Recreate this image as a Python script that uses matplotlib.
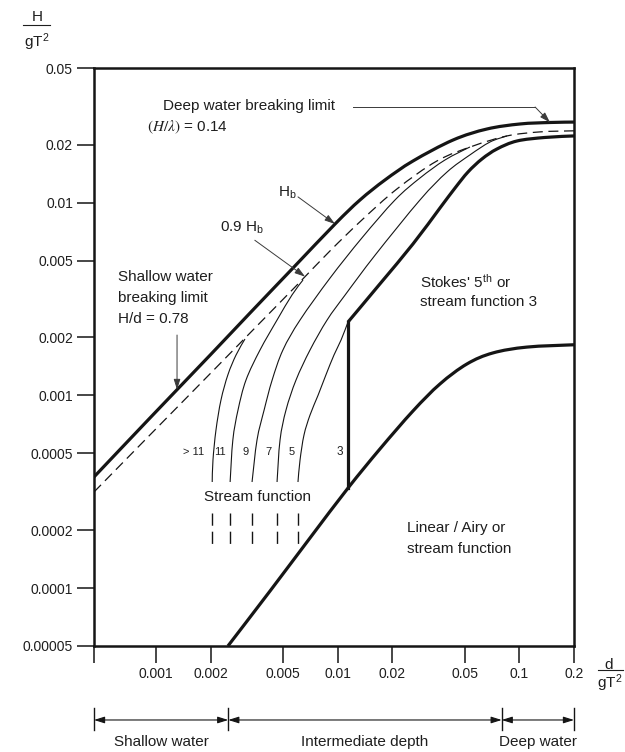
import numpy as np
import matplotlib

matplotlib.use("Agg")
import matplotlib.pyplot as plt
from matplotlib.lines import Line2D
from matplotlib.path import Path
from matplotlib.patches import PathPatch
from matplotlib.ticker import NullLocator

plt.rcParams["font.family"] = ["Liberation Sans", "DejaVu Sans"]
plt.rcParams["mathtext.fontset"] = "stix"

# axis ranges (d/gT2, H/gT2)
x_min, x_max = 0.000456, 0.2
y_min, y_max = 0.00005, 0.05

x_ticks = [x_min, 0.001, 0.002, 0.005, 0.01, 0.02, 0.05, 0.1, 0.2]
x_tick_labels = ["", "0.001", "0.002", "0.005", "0.01", "0.02", "0.05", "0.1", "0.2"]
y_ticks = [0.00005, 0.0001, 0.0002, 0.0005, 0.001, 0.002, 0.005, 0.01, 0.02, 0.05]
y_tick_labels = ["0.00005", "0.0001", "0.0002", "0.0005", "0.001", "0.002",
                 "0.005", "0.01", "0.02", "0.05"]

# breaking limit H_b
hb_x = [0.000456, 0.000927, 0.00199, 0.0033, 0.00568, 0.00968, 0.01328, 0.01823,
        0.026, 0.0432, 0.0664, 0.1009, 0.1476, 0.2]
hb_y = [0.000377, 0.000763, 0.00162, 0.00268, 0.00458, 0.00775, 0.01033, 0.01312,
        0.01646, 0.02115, 0.02412, 0.02561, 0.02607, 0.0262]

# 0.9 H_b
hb90_x = [0.000456, 0.000927, 0.00175, 0.0033, 0.00598, 0.00908, 0.0136, 0.0212,
          0.0352, 0.0556, 0.0855, 0.130, 0.2]
hb90_y = [0.000315, 0.000623, 0.001146, 0.00211, 0.00374, 0.00562, 0.00813, 0.01178,
          0.01646, 0.01968, 0.0222, 0.0233, 0.0236]

# upper limit of Stokes 5th / stream function 3 region
stokes_x = [0.0114, 0.0171, 0.026, 0.0366, 0.0443, 0.0522, 0.0623, 0.0754, 0.0971,
            0.1384, 0.2]
stokes_y = [0.0024, 0.00379, 0.00611, 0.00939, 0.01192, 0.01443, 0.01686, 0.019,
            0.0209, 0.0218, 0.0222]

# stream function order 3 boundary
sf3_x = [0.0114, 0.0114]
sf3_y = [0.00033, 0.0024]

# limit of linear / Airy region
airy_x = [0.00249, 0.00425, 0.00705, 0.0114, 0.0171, 0.026, 0.0366, 0.0515, 0.0716,
          0.1102, 0.2]
airy_y = [0.00005, 0.0000966, 0.000182, 0.00033, 0.000527, 0.00083, 0.001146,
          0.001455, 0.00166, 0.00178, 0.00183]

# stream function order curves
sf_orders = ["> 11", "11", "9", "7", "5"]
sf_x = [
    [0.00204, 0.00206, 0.00214, 0.00228, 0.00249, 0.00276, 0.00309],
    [0.00256, 0.00265, 0.00283, 0.00313, 0.00374, 0.00464, 0.00561, 0.00645],
    [0.00338, 0.0036, 0.00394, 0.00436, 0.005, 0.00621, 0.00908, 0.0136, 0.0207,
     0.0284, 0.039, 0.0535],
    [0.00464, 0.00482, 0.0052, 0.0059, 0.00705, 0.00875, 0.011, 0.0161, 0.0284,
     0.04, 0.0535, 0.069, 0.0855],
    [0.00605, 0.00621, 0.00653, 0.00705, 0.0078, 0.00863, 0.00955, 0.01045, 0.0114],
]
sf_y = [
    [0.000355, 0.000462, 0.000661, 0.000946, 0.00128, 0.00162, 0.00196],
    [0.000355, 0.000587, 0.00084, 0.0012, 0.00172, 0.00246, 0.00332, 0.00397],
    [0.000355, 0.000587, 0.00084, 0.0012, 0.00172, 0.00246, 0.00406, 0.00656,
     0.01033, 0.01343, 0.01666, 0.01946],
    [0.000355, 0.000587, 0.00084, 0.0012, 0.00172, 0.00246, 0.00332, 0.00535,
     0.01033, 0.01442, 0.0177, 0.02065, 0.0222],
    [0.000355, 0.000462, 0.000623, 0.000791, 0.001, 0.00128, 0.00162, 0.00194, 0.0024],
]
sf_tail_y = [0.000245, 0.000167]

# water depth zones
zone_edges = [x_min, 0.0025, 0.08, 0.2]
zone_labels = ["Shallow water", "Intermediate depth", "Deep water"]

INK = "#151515"
TXT = "#1e1e1e"
LEAD = "#3a3a3a"


def on_curve(xs, ys, x):
    return 10 ** np.interp(np.log10(x), np.log10(xs), np.log10(ys))


def smooth_curve(ax, xs, ys, **kw):
    # Catmull-Rom through the read points, built in log space so it bends like the drawing
    p = np.column_stack([np.log10(xs), np.log10(ys)])
    n = len(p)
    verts, codes = [p[0]], [Path.MOVETO]
    for i in range(n - 1):
        p0 = p[i - 1] if i > 0 else p[i]
        p3 = p[i + 2] if i + 2 < n else p[i + 1]
        verts += [p[i] + (p[i + 1] - p0) / 6, p[i + 1] - (p3 - p[i]) / 6, p[i + 1]]
        codes += [Path.CURVE4] * 3
    path = Path(10 ** np.array(verts), codes)
    ax.add_patch(PathPatch(path, fill=False, edgecolor=kw.pop("color", INK),
                           capstyle="butt", **kw))


def leader(ax, start, tip):
    ax.annotate("", xy=tip, xycoords="data", xytext=start, textcoords="axes fraction",
                arrowprops=dict(arrowstyle="-|>,head_length=0.7,head_width=0.22",
                                mutation_scale=9, color=LEAD, lw=0.7,
                                shrinkA=0, shrinkB=0))


fig = plt.figure(figsize=(6.25, 7.52), dpi=100)
ax = fig.add_axes([94 / 625, 106 / 752, 480 / 625, 578 / 752])
ax.set_xscale("log")
ax.set_yscale("log")
ax.set_xlim(x_min, x_max)
ax.set_ylim(y_min, y_max)

smooth_curve(ax, hb_x, hb_y, lw=2.3)
smooth_curve(ax, hb90_x, hb90_y, lw=0.9, linestyle=(0, (8, 4.5)))
smooth_curve(ax, stokes_x, stokes_y, lw=2.3)
ax.plot(sf3_x, sf3_y, color=INK, lw=2.3)
smooth_curve(ax, airy_x, airy_y, lw=2.3)

for xs, ys in zip(sf_x, sf_y):
    smooth_curve(ax, xs, ys, lw=0.8)
    ax.plot([xs[0], xs[0]], sf_tail_y, color=INK, lw=1.0, linestyle=(0, (8.8, 4.3)))

label_pos = [0.207, 0.263, 0.315, 0.363, 0.411]
for lab, px in zip(sf_orders, label_pos):
    ax.text(px, 0.336, lab, transform=ax.transAxes, ha="center", va="center",
            fontsize=8, color=TXT)
ax.text(0.5125, 0.336, "3", transform=ax.transAxes, ha="center", va="center",
        fontsize=8.5, color=TXT)

# ticks and frame
ax.set_xticks(x_ticks, labels=x_tick_labels)
ax.set_yticks(y_ticks, labels=y_tick_labels)
ax.xaxis.set_minor_locator(NullLocator())
ax.yaxis.set_minor_locator(NullLocator())
ax.tick_params(direction="out", length=12.2, width=1.1, color=INK, labelsize=10,
               labelcolor=TXT, pad=3)
for sp in ax.spines.values():
    sp.set_linewidth(1.8)
    sp.set_color(INK)

# annotations
kw = dict(transform=ax.transAxes, fontsize=11, color=TXT, va="center")
ax.text(0.144, 0.934, "Deep water breaking limit", ha="left", **kw)
ax.text(0.110, 0.898, r"$(H/\lambda)$ = 0.14", ha="left", **kw)
ax.plot([0.540, 0.919], [0.9325, 0.9325], transform=ax.transAxes, color=LEAD, lw=0.7)
leader(ax, (0.919, 0.9325), (0.1476, on_curve(hb_x, hb_y, 0.1476)))

ax.text(0.383, 0.784, r"H$_{\mathregular{b}}$", ha="left", **kw)
leader(ax, (0.425, 0.777), (0.00968, on_curve(hb_x, hb_y, 0.00968)))

ax.text(0.2625, 0.723, r"0.9 H$_{\mathregular{b}}$", ha="left", **kw)
leader(ax, (0.335, 0.702), (0.00662, on_curve(hb90_x, hb90_y, 0.00662)))

ax.text(0.05, 0.638, "Shallow water", ha="left", **kw)
ax.text(0.05, 0.602, "breaking limit", ha="left", **kw)
ax.text(0.05, 0.566, "H/d = 0.78", ha="left", **kw)
leader(ax, (0.173, 0.538), (0.001306, on_curve(hb_x, hb_y, 0.001306)))

ax.text(0.679, 0.630, r"Stokes' 5$^{\mathregular{th}}$ or", ha="left", **kw)
ax.text(0.679, 0.595, "stream function 3", ha="left", **kw)
ax.text(0.340, 0.258, "Stream function", ha="center", **kw)
ax.text(0.652, 0.204, "Linear / Airy or", ha="left", **kw)
ax.text(0.652, 0.168, "stream function", ha="left", **kw)

# axis labels as fractions
fig.text(0.0592, 0.977, "H", ha="center", va="center", fontsize=11, color=TXT)
fig.add_artist(Line2D([0.037, 0.080], [0.9668, 0.9668], transform=fig.transFigure,
                      color=TXT, lw=0.8))
fig.text(0.0592, 0.944, r"gT$^{\mathregular{2}}$", ha="center", va="center",
         fontsize=11, color=TXT)
fig.text(0.9744, 0.1157, "d", ha="center", va="center", fontsize=11, color=TXT)
fig.add_artist(Line2D([0.957, 0.997], [0.109, 0.109], transform=fig.transFigure,
                      color=TXT, lw=0.8))
fig.text(0.976, 0.092, r"gT$^{\mathregular{2}}$", ha="center", va="center",
         fontsize=11, color=TXT)

# depth zones below the axis
trans = ax.get_xaxis_transform()
for a, b, lab in zip(zone_edges[:-1], zone_edges[1:], zone_labels):
    ax.annotate("", xy=(a, -0.128), xycoords=trans, xytext=(b, -0.128), textcoords=trans,
                arrowprops=dict(arrowstyle="<|-|>,head_length=0.7,head_width=0.22",
                                mutation_scale=9, color=INK, lw=0.8,
                                shrinkA=0, shrinkB=0),
                annotation_clip=False)
    ax.text(np.sqrt(a * b), -0.166, lab, transform=trans, ha="center", va="center",
            fontsize=11, color=TXT)
for e in zone_edges:
    ax.plot([e, e], [-0.107, -0.145], transform=trans, color=INK, lw=1.0, clip_on=False)

fig.savefig("out.png", dpi=100)
plt.close(fig)
